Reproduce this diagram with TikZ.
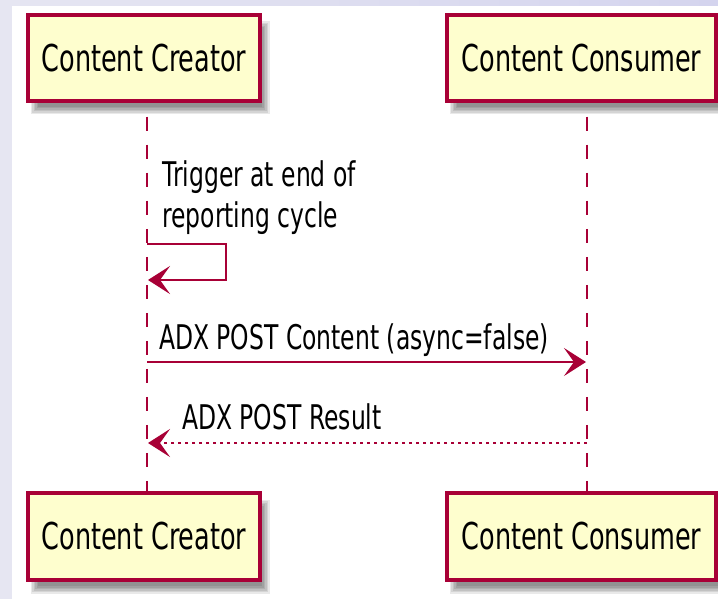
\documentclass[tikz,border=0pt]{standalone}
\usepackage{fontspec}
\setmainfont{DejaVu Sans}
\usetikzlibrary{arrows.meta}
\definecolor{pumlred}{HTML}{A80036}
\definecolor{pumlfill}{HTML}{FEFECE}
\definecolor{bgA}{HTML}{E6E6F2}
\definecolor{bgB}{HTML}{D4D4EE}
\newcommand{\sqz}[1]{\scalebox{0.69}[1]{#1}}
\newcommand{\blurshadow}[4]{%
  \foreach \e in {-4,-2.5,-1,0.5,2,3.5}{%
    \fill[black, opacity=0.085] ({#1+6-\e},{#2+10-\e}) rectangle ({#3+6+\e},{#4+10+\e});
  }}
\tikzset{
  participant/.style={draw=pumlred, fill=pumlfill, line width=3.5pt, inner sep=0pt,
    font=\fontsize{37}{44}\selectfont, text=black},
  msgtext/.style={inner sep=0pt, anchor=base west, font=\fontsize{34}{40}\selectfont, text=black},
  lifeline/.style={draw=pumlred, line width=1.8pt, dash pattern=on 14pt off 14pt, dash phase=14pt},
  message/.style={draw=pumlred, line width=2.5pt, -{Stealth[length=22pt,width=28pt,inset=10pt]}},
  reply/.style={message, dash pattern=on 3.5pt off 3.5pt},
}
\begin{document}
\begin{tikzpicture}[x=1pt,y=-1pt]
\useasboundingbox (0,0) rectangle (718,599);
\clip (0,0) rectangle (718,599);
\shade[left color=bgA, right color=bgB] (0,0) rectangle (718,599);
\fill[white] (12,6) rectangle (718,599);

% participants (top)
\blurshadow{28}{15}{260}{101}
\node[participant, minimum width=232pt, minimum height=86pt] (cr1) at (144,58) {\sqz{Content Creator}};
\blurshadow{447}{15}{716}{101}
\node[participant, minimum width=269pt, minimum height=86pt] (co1) at (581.5,58) {\sqz{Content Consumer}};
% participants (bottom)
\blurshadow{28}{493}{260}{580}
\node[participant, minimum width=232pt, minimum height=87pt] (cr2) at (144,536.5) {\sqz{Content Creator}};
\blurshadow{447}{493}{716}{580}
\node[participant, minimum width=269pt, minimum height=87pt] (co2) at (581.5,536.5) {\sqz{Content Consumer}};

% lifelines
\draw[lifeline] ([xshift=3pt]cr1.south) -- ([xshift=3pt]cr2.north);
\draw[lifeline] ([xshift=5.5pt]co1.south) -- ([xshift=5.5pt]co2.north);

% self message
\coordinate (s1) at (147,244);
\coordinate (s2) at (226,244);
\coordinate (s3) at (226,280);
\coordinate (s4) at (148,280);
\draw[message] (s1) -- (s2) -- (s3) -- (s4);
\node[msgtext, align=left] (t1) at (162,227) {\sqz{Trigger at end of}\\\sqz{reporting cycle}};

% request
\coordinate (m2a) at (147,362);
\coordinate (m2b) at (586,362);
\draw[message] (m2a) -- (m2b);
\node[msgtext] (t2) at (159,349) {\sqz{ADX POST Content (async=false)}};

% reply
\coordinate (m3a) at (587,443);
\coordinate (m3b) at (148,443);
\draw[reply] (m3a) -- (m3b);
\node[msgtext] (t3) at (182,429) {\sqz{ADX POST Result}};
\end{tikzpicture}
\end{document}
